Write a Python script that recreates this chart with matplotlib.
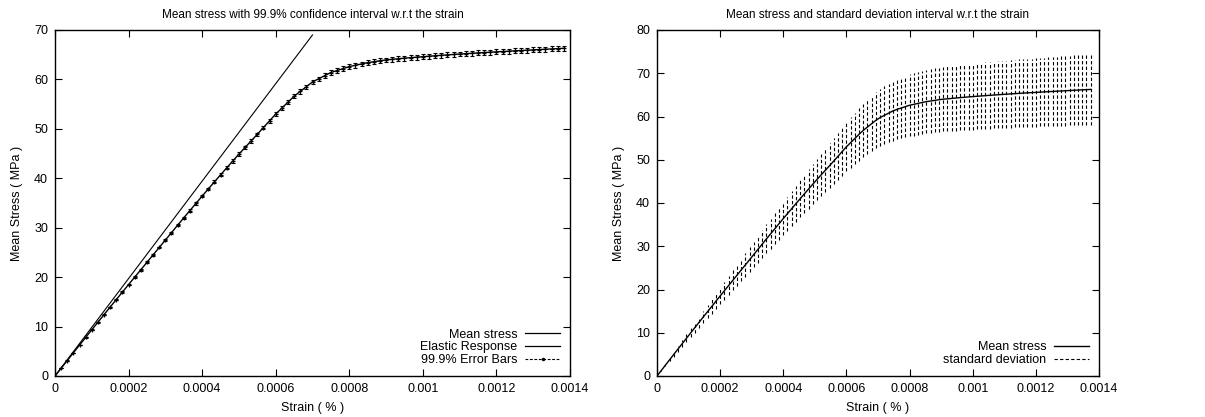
import matplotlib
matplotlib.use("Agg")
import matplotlib.pyplot as plt
from matplotlib.lines import Line2D

# ---------------- data ----------------
# Left panel: strain sampled every 1/6 of 1e-4; mean stress and 99.9% CI half-width
left_strain_step = 1e-4 / 6
left_mean = [0, 1.57, 3.13, 4.7, 6.25, 7.8, 9.35, 10.88, 12.42, 13.95,
             15.47, 16.98, 18.5, 20.0, 21.5, 23.0, 24.5, 26.0, 27.5, 29.0,
             30.5, 32.0, 33.47, 34.93, 36.4, 37.83, 39.27, 40.7, 42.1, 43.5,
             44.9, 46.23, 47.57, 48.9, 50.27, 51.63, 53.0, 54.2, 55.4, 56.6,
             57.57, 58.53, 59.5, 60.13, 60.77, 61.4, 61.8, 62.2, 62.6, 62.87,
             63.13, 63.4, 63.58, 63.77, 63.95, 64.07, 64.18, 64.3, 64.4, 64.5,
             64.6, 64.69, 64.79, 64.88, 64.96, 65.05, 65.13, 65.21, 65.29, 65.37,
             65.44, 65.51, 65.58, 65.65, 65.71, 65.78, 65.85, 65.91, 65.98, 66.04,
             66.11, 66.17, 66.23, 66.3]
left_ci = [0, 0.01, 0.02, 0.03, 0.05, 0.06, 0.07, 0.08, 0.09, 0.10,
           0.11, 0.13, 0.14, 0.15, 0.16, 0.17, 0.18, 0.19, 0.20, 0.21,
           0.23, 0.24, 0.25, 0.26, 0.27, 0.28, 0.29, 0.30, 0.31, 0.32,
           0.33, 0.34, 0.35, 0.36, 0.37, 0.38, 0.39, 0.40, 0.40, 0.41,
           0.42, 0.43, 0.43, 0.44, 0.44, 0.45, 0.46, 0.46, 0.46, 0.47,
           0.47, 0.47, 0.47, 0.47, 0.48, 0.48, 0.48, 0.48, 0.48, 0.48,
           0.48, 0.49, 0.49, 0.49, 0.49, 0.49, 0.49, 0.49, 0.49, 0.49,
           0.49, 0.50, 0.50, 0.50, 0.50, 0.50, 0.50, 0.50, 0.50, 0.50,
           0.50, 0.50, 0.50, 0.50]
left_strain = [i * left_strain_step for i in range(len(left_mean))]

elastic_strain = [0.0, 0.0007]
elastic_stress = [0.0, 69.0]

# Right panel: strain sampled every 2/15 of 1e-4; mean stress and standard deviation
right_strain_step = 1e-4 * 2 / 15
right_mean = [0, 1.25, 2.51, 3.76, 5.01, 6.25, 7.49, 8.73, 9.96, 11.19,
              12.42, 13.65, 14.86, 16.07, 17.29, 18.5, 19.7, 20.9, 22.1, 23.3,
              24.5, 25.7, 26.9, 28.1, 29.3, 30.5, 31.7, 32.88, 34.05, 35.23,
              36.4, 37.55, 38.69, 39.84, 40.98, 42.1, 43.22, 44.34, 45.43, 46.5,
              47.57, 48.63, 49.72, 50.81, 51.91, 53.0, 53.96, 54.92, 55.88, 56.79,
              57.57, 58.34, 59.11, 59.75, 60.26, 60.77, 61.27, 61.64, 61.96, 62.28,
              62.6, 62.81, 63.03, 63.24, 63.44, 63.58, 63.73, 63.88, 64.0, 64.09,
              64.18, 64.28, 64.36, 64.44, 64.52, 64.6, 64.67, 64.75, 64.82, 64.9,
              64.96, 65.03, 65.1, 65.16, 65.23, 65.29, 65.35, 65.41, 65.47, 65.52,
              65.58, 65.63, 65.69, 65.74, 65.79, 65.85, 65.9, 65.95, 66.01, 66.06,
              66.11, 66.16, 66.21, 66.26]
right_std = [0, 0.13, 0.26, 0.39, 0.53, 0.66, 0.79, 0.92, 1.05, 1.17,
             1.30, 1.43, 1.56, 1.69, 1.82, 1.94, 2.07, 2.19, 2.32, 2.45,
             2.57, 2.70, 2.82, 2.95, 3.08, 3.20, 3.33, 3.45, 3.58, 3.70,
             3.82, 3.94, 4.06, 4.18, 4.30, 4.42, 4.54, 4.66, 4.78, 4.91,
             5.05, 5.18, 5.31, 5.44, 5.57, 5.70, 5.82, 5.94, 6.06, 6.18,
             6.28, 6.39, 6.50, 6.60, 6.69, 6.78, 6.87, 6.95, 7.02, 7.09,
             7.16, 7.21, 7.25, 7.29, 7.33, 7.36, 7.39, 7.42, 7.45, 7.48,
             7.50, 7.52, 7.55, 7.57, 7.59, 7.61, 7.63, 7.65, 7.67, 7.69,
             7.71, 7.73, 7.75, 7.77, 7.80, 7.81, 7.83, 7.85, 7.87, 7.89,
             7.91, 7.93, 7.95, 7.97, 7.98, 8.00, 8.02, 8.04, 8.06, 8.08,
             8.10, 8.12, 8.13, 8.15]
right_strain = [i * right_strain_step for i in range(len(right_mean))]

x_ticks = [0, 0.0002, 0.0004, 0.0006, 0.0008, 0.001, 0.0012, 0.0014]
x_tick_labels = ["0", "0.0002", "0.0004", "0.0006", "0.0008", "0.001", "0.0012", "0.0014"]
left_y_ticks = [0, 10, 20, 30, 40, 50, 60, 70]
right_y_ticks = [0, 10, 20, 30, 40, 50, 60, 70, 80]

titles = ["Mean stress with 99.9% confidence interval w.r.t the strain",
          "Mean stress and standard deviation interval w.r.t the strain"]
left_labels = ["Mean stress", "Elastic Response", "99.9% Error Bars"]
right_labels = ["Mean stress", "standard deviation"]

# ---------------- style ----------------
plt.rcParams['font.family'] = ['Liberation Sans', 'DejaVu Sans']
plt.rcParams['font.size'] = 9

W, H = 1205, 417
fig = plt.figure(figsize=(W / 100, H / 100), dpi=100)

def frac(x0, x1, ytop, ybot):
    return [x0 / W, 1 - ybot / H, (x1 - x0) / W, (ybot - ytop) / H]

axL = fig.add_axes(frac(55, 570, 30, 376))
axR = fig.add_axes(frac(657, 1099, 30, 376))

def style(ax, yticks, ymax, title):
    ax.set_xlim(0, 0.0014)
    ax.set_ylim(0, ymax)
    ax.set_xticks(x_ticks)
    ax.set_xticklabels(x_tick_labels)
    ax.set_yticks(yticks)
    ax.tick_params(direction='in', length=5, width=0.8, top=True, right=True,
                   labelsize=9, pad=5, colors='black')
    for s in ax.spines.values():
        s.set_linewidth(1.0)
    ax.set_xlabel("Strain ( % )", fontsize=9, labelpad=5)
    ax.set_ylabel("Mean Stress ( MPa )", fontsize=9, labelpad=8)
    ax.set_title(title, fontsize=8.5, pad=9)

DASH = (0, (3.0, 2.0))

# Left panel
axL.plot(elastic_strain, elastic_stress, color='black', lw=0.8)
axL.errorbar(left_strain, left_mean, yerr=left_ci, fmt='none', ecolor='black',
             elinewidth=0.8, capsize=1.3, capthick=0.8)
axL.plot(left_strain, left_mean, color='black', lw=1.0, marker='+', ms=3.5, mew=0.9)
style(axL, left_y_ticks, 70, titles[0])
hL = [Line2D([], [], color='black', lw=0.9),
      Line2D([], [], color='black', lw=0.9),
      Line2D([], [], color='black', lw=0.8, ls=(0, (2.5, 1.5)), marker='.', ms=3)]
axL.legend(hL, left_labels,
           loc='lower right', frameon=False, markerfirst=False, fontsize=9,
           handlelength=2.8, handletextpad=0.6, labelspacing=0.05,
           borderaxespad=0.4, bbox_to_anchor=(1.0, 0.0))

# Right panel
lo = [m - s for m, s in zip(right_mean, right_std)]
hi = [m + s for m, s in zip(right_mean, right_std)]
axR.vlines(right_strain, lo, hi, colors='black', lw=0.8, linestyles=DASH)
axR.plot(right_strain, right_mean, color='black', lw=1.0)
style(axR, right_y_ticks, 80, titles[1])
hR = [Line2D([], [], color='black', lw=1.0),
      Line2D([], [], color='black', lw=0.8, ls=DASH)]
axR.legend(hR, right_labels,
           loc='lower right', frameon=False, markerfirst=False, fontsize=9,
           handlelength=2.8, handletextpad=0.6, labelspacing=0.05,
           borderaxespad=0.4, bbox_to_anchor=(1.0, 0.0))

fig.savefig("out.png", dpi=100)
